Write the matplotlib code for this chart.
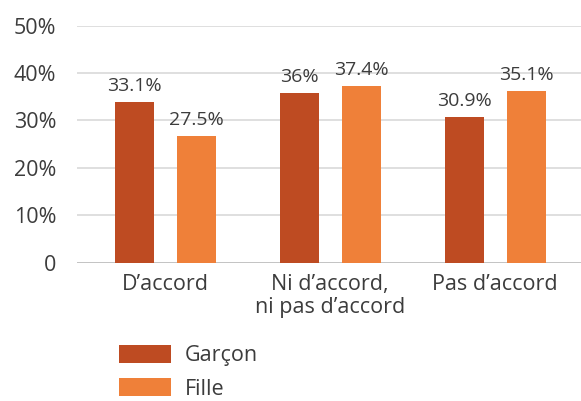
import matplotlib
matplotlib.use("Agg")
import matplotlib.pyplot as plt
from matplotlib.patches import Patch
import numpy as np

plt.rcParams['font.family'] = ['Open Sans', 'DejaVu Sans']

categories = ["D\u2019accord", "Ni d\u2019accord,\nni pas d\u2019accord", "Pas d\u2019accord"]
series_names = ["Gar\u00e7on", "Fille"]
garcon_heights = [33.9, 35.8, 30.7]
fille_heights = [26.7, 37.3, 36.3]
garcon_labels = ["33.1%", "36%", "30.9%"]
fille_labels = ["27.5%", "37.4%", "35.1%"]
yticks = [0, 10, 20, 30, 40, 50]
ytick_labels = ["0", "10%", "20%", "30%", "40%", "50%"]

c_garcon = "#BE4B22"
c_fille = "#EF8039"
text_color = "#3C3C3C"

W, H = 581, 401
fig = plt.figure(figsize=(W / 100, H / 100), dpi=100)
ax = fig.add_axes([77 / W, (H - 262.7) / H, 504 / W, (262.7 - 25.7) / H])

x = np.arange(len(categories))
bw = 0.236
off = 0.188
b1 = ax.bar(x - off, garcon_heights, bw, color=c_garcon, zorder=3)
b2 = ax.bar(x + off, fille_heights, bw, color=c_fille, zorder=3)

for bars, labs in ((b1, garcon_labels), (b2, fille_labels)):
    for rect, lab in zip(bars, labs):
        ax.annotate(lab, (rect.get_x() + rect.get_width() / 2, rect.get_height()),
                    xytext=(0, 5), textcoords="offset points", ha="center", va="bottom",
                    fontsize=14, color=text_color)

ax.set_xlim(-0.535, 2.52)
ax.set_ylim(0, 50)
ax.set_yticks(yticks)
ax.set_yticklabels(ytick_labels)
ax.set_xticks(x)
ax.set_xticklabels(categories, linespacing=1.15)
ax.tick_params(axis='y', length=0, pad=15, labelsize=15.5, labelcolor=text_color)
ax.tick_params(axis='x', length=0, pad=8, labelsize=15.5, labelcolor=text_color)
for s in ax.spines.values():
    s.set_visible(False)
ax.grid(axis='y', color="#D9D9D9", linewidth=1.2, zorder=0)
ax.axhline(0, color="#BFBFBF", linewidth=1.2, zorder=2)

handles = [Patch(facecolor=c_garcon), Patch(facecolor=c_fille)]
fig.legend(handles, series_names, loc="upper left", bbox_to_anchor=(110 / W, 1 - 336 / H),
           frameon=False, fontsize=15.5, handlelength=2.42, handleheight=0.93,
           handletextpad=0.65, labelspacing=0.55, labelcolor=text_color, borderaxespad=0)

fig.savefig("out.png", dpi=100)
